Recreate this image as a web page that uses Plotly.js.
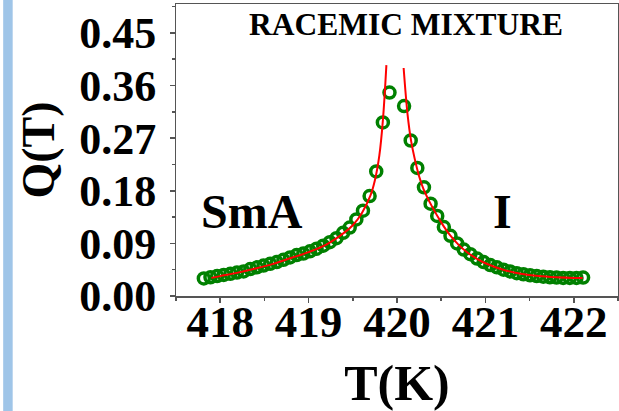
<!DOCTYPE html>
<html>
<head>
<meta charset="utf-8">
<script src="https://cdn.plot.ly/plotly-3.0.1.min.js"></script>
<style>
html,body{margin:0;padding:0;background:#ffffff;}
#chart{width:619px;height:411px;}
</style>
</head>
<body>
<div id="chart"></div>
<script>
// Measured data: SmA side (below Tc) and I side (above Tc)
const tSmA = [417.815, 417.89, 417.965, 418.04, 418.115, 418.19, 418.265, 418.34, 418.415, 418.49,
              418.565, 418.64, 418.715, 418.79, 418.865, 418.94, 419.015, 419.09, 419.165, 419.24,
              419.315, 419.39, 419.465, 419.54, 419.615, 419.69, 419.765, 419.84, 419.915];
const qSmA = [0.030, 0.032, 0.034, 0.036, 0.038, 0.040, 0.042, 0.046, 0.049, 0.052,
              0.055, 0.058, 0.062, 0.066, 0.070, 0.0725, 0.0765, 0.081, 0.086, 0.092,
              0.099, 0.108, 0.117, 0.131, 0.146, 0.171, 0.213, 0.297, 0.348];
const tIso = [420.08, 420.155, 420.23, 420.305, 420.38, 420.455, 420.53, 420.605, 420.68, 420.755,
              420.83, 420.905, 420.98, 421.055, 421.13, 421.205, 421.28, 421.355, 421.43, 421.505,
              421.58, 421.655, 421.73, 421.805, 421.88, 421.955, 422.03, 422.105];
const qIso = [0.325, 0.266, 0.219, 0.186, 0.158, 0.137, 0.118, 0.103, 0.090, 0.0795,
              0.0715, 0.064, 0.058, 0.053, 0.049, 0.045, 0.042, 0.039, 0.037, 0.0355,
              0.034, 0.033, 0.032, 0.0315, 0.031, 0.031, 0.031, 0.0315];
// Fit curves
const tFitSmA = [417.9, 418.0, 418.2, 418.4, 418.6, 418.8, 419.0, 419.2, 419.4, 419.5,
                 419.6, 419.7, 419.75, 419.8, 419.84, 419.88];
const qFitSmA = [0.031, 0.034, 0.040, 0.047, 0.055, 0.065, 0.075, 0.088, 0.108, 0.121,
                 0.141, 0.172, 0.198, 0.240, 0.300, 0.395];
const tFitIso = [420.075, 420.12, 420.16, 420.2, 420.25, 420.3, 420.4, 420.5, 420.6, 420.7,
                 420.8, 420.9, 421.0, 421.2, 421.4, 421.6, 421.8, 422.0, 422.1];
const qFitIso = [0.39, 0.31, 0.265, 0.235, 0.205, 0.183, 0.152, 0.126, 0.104, 0.087,
                 0.074, 0.064, 0.056, 0.045, 0.038, 0.034, 0.032, 0.031, 0.031];
const yTicks = [0.00, 0.09, 0.18, 0.27, 0.36, 0.45];
const yTickText = ["0.00", "0.09", "0.18", "0.27", "0.36", "0.45"];
const xTicks = [418, 419, 420, 421, 422];
const xRange = [417.5, 422.5];
const yRange = [0, 0.4995];

const serif = "Liberation Serif";
const markerStyle = {symbol: 'circle-open', size: 11, color: '#008000', line: {width: 3.5, color: '#008000'}};
const lineStyle = {color: '#ff0000', width: 2};

const traces = [
  {x: tSmA, y: qSmA, mode: 'markers', type: 'scatter', marker: markerStyle, hoverinfo: 'x+y'},
  {x: tIso, y: qIso, mode: 'markers', type: 'scatter', marker: markerStyle, hoverinfo: 'x+y'},
  {x: tFitSmA, y: qFitSmA, mode: 'lines', type: 'scatter', line: Object.assign({shape: 'spline'}, lineStyle)},
  {x: tFitIso, y: qFitIso, mode: 'lines', type: 'scatter', line: Object.assign({shape: 'spline'}, lineStyle)},
  // empty trace so the label-only overlay axes get a subplot
  {x: [], y: [], type: 'scatter', mode: 'markers', xaxis: 'x2', yaxis: 'y2', hoverinfo: 'skip'}
];

const tickAxis = {
  showline: true, linecolor: '#555555', linewidth: 1.5, mirror: true,
  ticks: 'outside', ticklen: 5, tickwidth: 1.5, tickcolor: '#555555',
  showgrid: false, zeroline: false, showticklabels: false
};
const labelAxis = {
  showline: false, showgrid: false, zeroline: false
};

const layout = {
  width: 619, height: 411,
  margin: {l: 176, r: 1, t: 4, b: 115},
  paper_bgcolor: '#ffffff', plot_bgcolor: '#ffffff',
  showlegend: false,
  xaxis: Object.assign({}, tickAxis, {
    range: xRange, tickvals: xTicks,
    minor: {dtick: 0.5, tick0: 417.5, ticks: 'outside', ticklen: 3, tickcolor: '#555555', tickwidth: 1.5}
  }),
  yaxis: Object.assign({}, tickAxis, {
    range: yRange, tickvals: yTicks,
    minor: {dtick: 0.045, tick0: 0, ticks: 'outside', ticklen: 3, tickcolor: '#555555', tickwidth: 1.5}
  }),
  xaxis2: Object.assign({}, labelAxis, {
    overlaying: 'x', anchor: 'free', position: 0.018, side: 'bottom', range: xRange, tickvals: xTicks,
    ticks: '',
    tickfont: {family: serif, size: 45, color: '#000000', weight: 'bold'},
    title: {text: 'T(K)', font: {family: serif, size: 50, color: '#000000', weight: 'bold'}, standoff: 20}
  }),
  yaxis2: Object.assign({}, labelAxis, {
    overlaying: 'y', anchor: 'x2', side: 'left', range: yRange, tickvals: yTicks, ticktext: yTickText,
    ticks: 'outside', ticklen: 10, tickcolor: 'rgba(0,0,0,0)',
    tickfont: {family: serif, size: 44, color: '#000000', weight: 'bold'},
    title: {text: 'Q(T)', font: {family: serif, size: 46, color: '#000000', weight: 'bold'}, standoff: 10}
  }),
  annotations: [
    {text: 'RACEMIC MIXTURE', xref: 'paper', yref: 'paper', x: 0.52, y: 0.93, showarrow: false,
     xanchor: 'center', yanchor: 'middle', font: {family: serif, size: 31.5, color: '#000000', weight: 'bold'}},
    {text: 'SmA', xref: 'x', yref: 'y', x: 418.36, y: 0.145, showarrow: false,
     xanchor: 'center', yanchor: 'middle', font: {family: serif, size: 48, color: '#000000', weight: 'bold'}},
    {text: 'I', xref: 'x', yref: 'y', x: 421.19, y: 0.145, showarrow: false,
     xanchor: 'center', yanchor: 'middle', font: {family: serif, size: 48, color: '#000000', weight: 'bold'}}
  ],
  shapes: [
    {type: 'rect', xref: 'paper', yref: 'paper', x0: -0.391, x1: -0.3695, y0: -0.5, y1: 1.1,
     fillcolor: '#9fc5e8', line: {width: 0}, layer: 'below'}
  ]
};

Plotly.newPlot('chart', traces, layout, {displayModeBar: false, staticPlot: true});
</script>
</body>
</html>
